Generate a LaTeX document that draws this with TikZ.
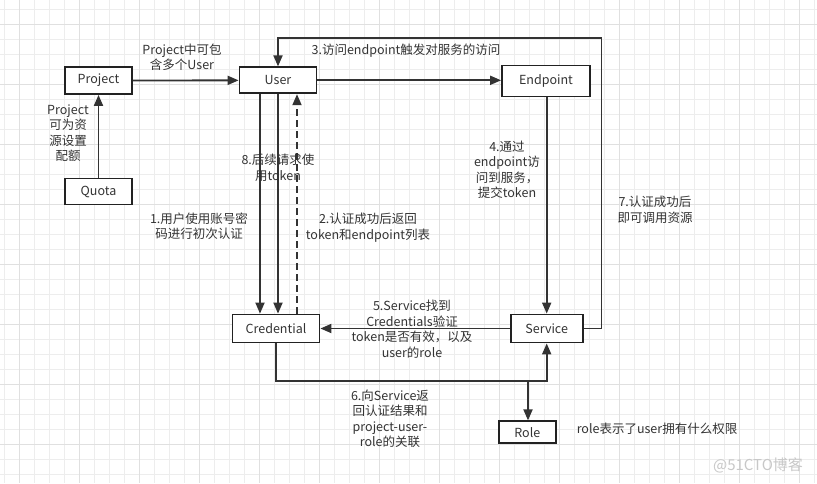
\documentclass[tikz,border=0pt]{standalone}
\usepackage{fontspec}
\setmainfont{Noto Sans CJK SC}
\usetikzlibrary{arrows.meta}
\definecolor{ink}{HTML}{333333}
\definecolor{boxc}{HTML}{222222}
\definecolor{gridminor}{HTML}{EDEDED}
\definecolor{gridmajor}{HTML}{E0E0E0}
\definecolor{wm}{HTML}{C8C8C8}
\begin{document}
\begin{tikzpicture}[x=1pt,y=-1pt,
  font=\fontsize{12.5}{15.5}\selectfont,
  box/.style={draw=boxc, line width=1.8pt, fill=white, text=ink, inner sep=0pt},
  lbl/.style={text=ink, align=center, inner sep=0pt},
  conn/.style={draw=ink, line width=1.8pt},
  arr/.style={conn, -{Triangle[length=11pt,width=9pt]}},
  dsh/.style={arr, dash pattern=on 7pt off 4pt}
]
\useasboundingbox (0,0) rectangle (817,483);
\fill[white] (0,0) rectangle (817,483);
% grid
\foreach \x in {4.5,19.5,...,817} \draw[gridminor, line width=0.8pt] (\x,0) -- (\x,483);
\foreach \y in {9.5,24.5,...,483} \draw[gridminor, line width=0.8pt] (0,\y) -- (817,\y);
\foreach \x in {19.5,79.5,...,817} \draw[gridmajor, line width=0.8pt] (\x,0) -- (\x,483);
\foreach \y in {24.5,84.5,...,483} \draw[gridmajor, line width=0.8pt] (0,\y) -- (817,\y);

% nodes
\node[box, minimum width=67pt, minimum height=27pt] (Project) at (98.5,80.5) {Project};
\node[box, minimum width=67pt, minimum height=26pt] (Quota) at (98.5,191.5) {Quota};
\node[box, minimum width=77pt, minimum height=26pt] (User) at (278,80.3) {User};
\node[box, minimum width=88pt, minimum height=31pt] (Endpoint) at (546,81) {Endpoint};
\node[box, minimum width=87pt, minimum height=28pt] (Credential) at (276,328.5) {Credential};
\node[box, minimum width=72pt, minimum height=28pt] (Service) at (546.7,328.5) {Service};
\node[box, minimum width=57pt, minimum height=22pt] (Role) at (527.3,432.3) {Role};

\coordinate (loopR) at (601.5,38.3);
\coordinate (jn) at (528,381.3);

% connectors
\draw[arr] (Project) -- (User);
\draw[arr] (Quota) -- (Project);
\draw[arr] (User.east) -- (User.east -| Endpoint.west);
\draw[arr] (Endpoint.south -| Service.north) -- (Service.north);
\draw[arr] (Service.east) -| (loopR) -| (User.north);
\draw[arr] ([xshift=-18pt]User.south) -- ([xshift=-18pt]User.south |- Credential.north);
\draw[arr] (User.south) -- (User.south |- Credential.north);
\draw[dsh] ([xshift=19pt]User.south |- Credential.north) -- ([xshift=19pt]User.south);
\draw[arr] (Service.west) -- (Credential.east);
\draw[arr] (Credential.south) |- (jn) -| (Service.south);
\draw[arr] (jn) -- (jn |- Role.north);

% labels
\node[lbl] (l0) at (182,57) {Project中可包\\含多个User};
\node[lbl] (lq) at (68,133) {Project\\可为资\\源设置\\配额};
\node[lbl] (l3) at (406,51) {3.访问endpoint触发对服务的访问};
\node[lbl] (l8) at (278,168) {8.后续请求使\\用token};
\node[lbl] (l1) at (199,226) {1.用户使用账号密\\码进行初次认证};
\node[lbl] (l2) at (368,227.5) {2.认证成功后返回\\token和endpoint列表};
\node[lbl] (l4) at (507,170) {4.通过\\endpoint访\\问到服务，\\提交token};
\node[lbl] (l7) at (655,210) {7.认证成功后\\即可调用资源};
\node[lbl] (l5) at (412,329) {5.Service找到\\Credentials验证\\token是否有效，以及\\user的role};
\node[lbl] (l6) at (390,419) {6.向Service返\\回认证结果和\\project-user-\\role的关联};
\node[lbl] (lr) at (657,429) {role表示了user拥有什么权限};
\node[lbl, text=wm, font=\fontsize{15}{18}\selectfont] (wmk) at (758,465) {@51CTO博客};
\end{tikzpicture}
\end{document}
